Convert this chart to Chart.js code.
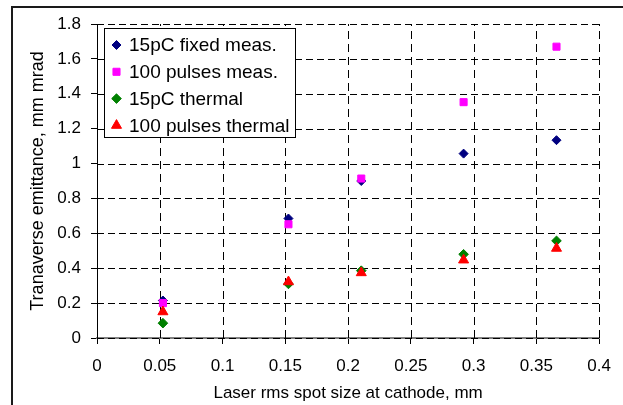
<!DOCTYPE html>
<html>
<head>
<meta charset="utf-8">
<script src="https://cdn.jsdelivr.net/npm/chart.js@4.4.1/dist/chart.umd.min.js"></script>
<style>
  html, body { margin: 0; padding: 0; background: #fff; overflow: hidden; }
  #wrap { position: relative; width: 623px; height: 405px; }
  /* Excel-style chart frame, only left/top edges fall inside the picture */
  #frame { position: absolute; left: 11px; top: 6px; width: 700px; height: 500px;
           border-left: 2px solid #1a1a1a; border-top: 2px solid #1a1a1a; }
  #chart { position: absolute; left: 0; top: 0; }
</style>
</head>
<body>
<div id="wrap">
  <div id="frame"></div>
  <canvas id="chart" width="623" height="405"></canvas>
</div>
<script>
/* =========================
   Data
========================= */
const FONT = "'Liberation Sans', Arial, sans-serif";

const spotSize      = [0.0525, 0.1525, 0.2105, 0.292, 0.366];
const fixedMeas     = [0.215, 0.685, 0.900, 1.057, 1.134];
const pulsesMeas    = [0.200, 0.652, 0.914, 1.352, 1.670];
const fixedThermal  = [0.085, 0.310, 0.386, 0.480, 0.557];
const pulsesThermal = [0.150, 0.322, 0.374, 0.447, 0.514];

const seriesNames = ["15pC fixed meas.", "100 pulses meas.", "15pC thermal", "100 pulses thermal"];

const xTickValues = [0, 0.05, 0.1, 0.15, 0.2, 0.25, 0.3, 0.35, 0.4];
const yTickValues = [0, 0.2, 0.4, 0.6, 0.8, 1, 1.2, 1.4, 1.6, 1.8];

const xTitle = "Laser rms spot size at cathode, mm";
const yTitle = "Tranaverse emittance, mm mrad";

/* =========================
   Helpers
========================= */
function toPoints(values) {
  return spotSize.map((x, i) => ({ x, y: values[i] }));
}

function plainNumber(v) {
  return String(Number(Number(v).toFixed(3)));
}

function makeSeries(label, values, color, style, radius, order) {
  return {
    label,
    data: toPoints(values),
    pointStyle: style,
    pointRadius: radius,
    pointHoverRadius: radius,
    backgroundColor: color,
    borderColor: color,
    pointBorderWidth: 1,
    order
  };
}

/* =========================
   Plugins: dashed grid, legend box, axis titles
========================= */
const dashedGrid = {
  id: "dashedGrid",
  beforeDatasetsDraw(chart) {
    const ctx = chart.ctx;
    const { left, right, top, bottom } = chart.chartArea;
    const xs = chart.scales.x, ys = chart.scales.y;
    ctx.save();
    ctx.strokeStyle = "#000";
    ctx.lineWidth = 1;

    ctx.setLineDash([8, 5]);
    xs.ticks.forEach(t => {
      const px = Math.round(xs.getPixelForValue(t.value)) + 0.5;
      ctx.beginPath();
      ctx.moveTo(px, bottom);
      ctx.lineTo(px, top);
      ctx.stroke();
    });

    ctx.setLineDash([7, 4]);
    ys.ticks.forEach(t => {
      const py = Math.round(ys.getPixelForValue(t.value)) + 0.5;
      ctx.beginPath();
      ctx.moveTo(left, py);
      ctx.lineTo(right, py);
      ctx.stroke();
    });
    ctx.restore();
  }
};

const boxLegend = {
  id: "boxLegend",
  afterDatasetsDraw(chart) {
    const ctx = chart.ctx;
    ctx.save();
    ctx.fillStyle = "#fff";
    ctx.strokeStyle = "#000";
    ctx.lineWidth = 1;
    ctx.fillRect(104.5, 28.5, 191, 109);
    ctx.strokeRect(104.5, 28.5, 191, 109);
    ctx.font = "19px " + FONT;
    ctx.textBaseline = "middle";
    ctx.textAlign = "left";
    chart.data.datasets.forEach((ds, i) => {
      const y = 45 + i * 26.8;
      ctx.fillStyle = ds.backgroundColor;
      ctx.strokeStyle = ds.borderColor;
      ctx.lineWidth = 1;
      Chart.helpers.drawPoint(ctx, {
        pointStyle: ds.pointStyle, radius: ds.pointRadius, rotation: 0, borderWidth: 1
      }, 116.5, y);
      ctx.fillStyle = "#000";
      ctx.fillText(ds.label, 129, y + 1);
    });
    ctx.restore();
  }
};

const axisTitles = {
  id: "axisTitles",
  afterDraw(chart) {
    const ctx = chart.ctx;
    const area = chart.chartArea;
    ctx.save();
    ctx.fillStyle = "#000";
    ctx.textAlign = "center";
    ctx.textBaseline = "alphabetic";
    ctx.font = "17px " + FONT;
    ctx.fillText(xTitle, (area.left + area.right) / 2, 398);
    ctx.font = "18px " + FONT;
    ctx.translate(43, (area.top + area.bottom) / 2);
    ctx.rotate(-Math.PI / 2);
    ctx.fillText(yTitle, 0, 0);
    ctx.restore();
  }
};

/* =========================
   Chart
========================= */
new Chart(document.getElementById("chart"), {
  type: "scatter",
  data: {
    datasets: [
      makeSeries(seriesNames[0], fixedMeas,     "#000080", "rectRot",  4.5, 4),
      makeSeries(seriesNames[1], pulsesMeas,    "#FF00FF", "rect",     5,   3),
      makeSeries(seriesNames[2], fixedThermal,  "#008000", "rectRot",  4.8, 2),
      makeSeries(seriesNames[3], pulsesThermal, "#FF0000", "triangle", 5.8, 1)
    ]
  },
  options: {
    responsive: false,
    animation: false,
    layout: { padding: { left: 0, top: 24, right: 21, bottom: 0 } },
    plugins: { legend: { display: false }, tooltip: { enabled: false } },
    scales: {
      x: {
        type: "linear",
        min: 0,
        max: 0.4,
        afterBuildTicks: s => { s.ticks = xTickValues.map(v => ({ value: v })); },
        afterFit: s => { s.height = 67; },
        ticks: {
          font: { family: FONT, size: 17 }, color: "#000", padding: 12,
          maxRotation: 0, autoSkip: false, callback: v => plainNumber(v)
        },
        grid: { drawOnChartArea: false, lineWidth: 1, tickLength: 6, tickColor: "#000" },
        border: { color: "#808080", width: 2 }
      },
      y: {
        type: "linear",
        min: 0,
        max: 1.8,
        afterBuildTicks: s => { s.ticks = yTickValues.map(v => ({ value: v })); },
        afterFit: s => { s.width = 97; },
        ticks: {
          font: { family: FONT, size: 17 }, color: "#000", padding: 10,
          callback: v => plainNumber(v)
        },
        grid: { drawOnChartArea: false, lineWidth: 1, tickLength: 6, tickColor: "#000" },
        border: { color: "#000", width: 1 }
      }
    }
  },
  plugins: [dashedGrid, boxLegend, axisTitles]
});
</script>
</body>
</html>
